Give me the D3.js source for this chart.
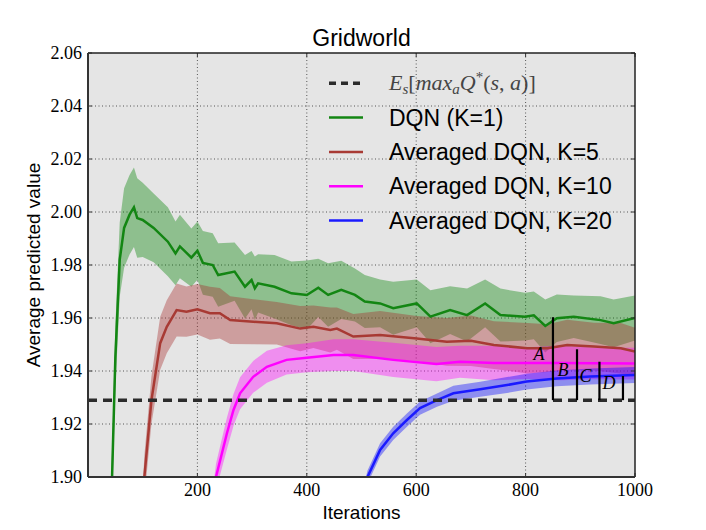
<!DOCTYPE html>
<html>
<head>
<meta charset="utf-8">
<script src="https://cdnjs.cloudflare.com/ajax/libs/d3/7.8.5/d3.min.js"></script>
<style>
  body { margin: 0; background: #fff; }
  svg { display: block; }
</style>
</head>
<body>
<script>
// Gridworld: average predicted value per iteration (mean line + spread band)

var xTicks = [200, 400, 600, 800, 1000]
var yTicks = [1.90, 1.92, 1.94, 1.96, 1.98, 2.00, 2.02, 2.04, 2.06]
var trueValue = 1.929

// DQN (K=1)
var greenIters = [36, 44, 50, 58, 66, 76, 84, 90, 100, 120,
  146, 160, 168, 189, 200, 210, 228, 238, 268, 287,
  299, 305, 311, 341, 372, 400, 421, 439, 463, 488,
  506, 534, 558, 601, 626, 662, 693, 726, 754, 799,
  815, 836, 857, 888, 937, 961, 1000]
var greenMean = [1.86, 1.90, 1.945, 1.982, 1.994, 1.999, 2.0018, 1.9977, 1.997, 1.994,
  1.9888, 1.9844, 1.987, 1.9828, 1.9854, 1.9808, 1.980, 1.9762, 1.9775, 1.9718,
  1.9743, 1.9712, 1.9731, 1.9718, 1.9693, 1.9687, 1.9714, 1.9687, 1.9706, 1.9687,
  1.9662, 1.9655, 1.9637, 1.9655, 1.9605, 1.963, 1.9611, 1.9655, 1.9611, 1.9605,
  1.961, 1.957, 1.9599, 1.9605, 1.9592, 1.958, 1.960]
var greenSpread = [0.010, 0.010, 0.012, 0.014, 0.015, 0.015, 0.015, 0.015, 0.014, 0.013,
  0.013, 0.012, 0.012, 0.011, 0.011, 0.012, 0.012, 0.012, 0.011, 0.012,
  0.011, 0.012, 0.011, 0.012, 0.012, 0.013, 0.011, 0.012, 0.011, 0.010,
  0.010, 0.009, 0.010, 0.009, 0.010, 0.009, 0.010, 0.009, 0.010, 0.009,
  0.009, 0.010, 0.009, 0.008, 0.009, 0.009, 0.0085]

// Averaged DQN, K=5
var redIters = [98, 103, 116, 132, 144, 162, 180, 200, 223, 241,
  260, 302, 345, 388, 412, 443, 455, 485, 534, 601,
  656, 700, 742, 803, 840, 876, 925, 974, 1000]
var redMean = [1.88, 1.90, 1.929, 1.9505, 1.9567, 1.963, 1.9624, 1.9633, 1.9618, 1.9618,
  1.9592, 1.9586, 1.958, 1.956, 1.9567, 1.9555, 1.956, 1.953, 1.9536, 1.9523,
  1.951, 1.9514, 1.9498, 1.9486, 1.9486, 1.9498, 1.9492, 1.9486, 1.9473]
var redSpread = [0.008, 0.008, 0.009, 0.010, 0.010, 0.010, 0.0095, 0.0095, 0.010, 0.0095,
  0.009, 0.0085, 0.008, 0.0085, 0.008, 0.0085, 0.008, 0.0085, 0.009, 0.0085,
  0.009, 0.0095, 0.009, 0.0095, 0.009, 0.0095, 0.009, 0.0095, 0.009]

// Averaged DQN, K=10
var pinkIters = [228, 234, 254, 266, 278, 302, 327, 363, 400, 449,
  485, 558, 637, 680, 742, 803, 864, 925, 1000]
var pinkMean = [1.89, 1.90, 1.9165, 1.9253, 1.9316, 1.9378, 1.9416, 1.9442, 1.945, 1.946,
  1.946, 1.9442, 1.9426, 1.9435, 1.943, 1.943, 1.943, 1.9429, 1.9428]
var pinkSpread = [0.005, 0.005, 0.006, 0.006, 0.006, 0.006, 0.006, 0.0055, 0.0055, 0.006,
  0.006, 0.0065, 0.0065, 0.006, 0.0065, 0.006, 0.0065, 0.006, 0.006]

// Averaged DQN, K=20
var blueIters = [505, 511, 534, 558, 583, 607, 638, 668, 717, 766, 802, 857, 918, 1000]
var blueMean = [1.895, 1.90, 1.9102, 1.9165, 1.9215, 1.926, 1.929, 1.9316, 1.9331, 1.9347,
  1.936, 1.9372, 1.9379, 1.9385]
var blueSpread = [0.0025, 0.0025, 0.0025, 0.0025, 0.0025, 0.0025, 0.0025, 0.0028, 0.0028, 0.003,
  0.003, 0.003, 0.003, 0.003]

var seriesNames = ["DQN (K=1)", "Averaged DQN, K=5", "Averaged DQN, K=10", "Averaged DQN, K=20"]
var lineColors = ["#138613", "#a83a34", "#ff00ff", "#1a1aff"]
var bandColors = ["#008000", "#a52a2a", "#ff00ff", "#0000ff"]

// gaps A..D between each curve and the true value
var gapLabels = ["A", "B", "C", "D"]
var gapIters = [850, 894, 935, 978]
var gapTops = [1.9603, 1.9482, 1.9435, 1.9381]

var series = [
  {iters: greenIters, mean: greenMean, spread: greenSpread},
  {iters: redIters, mean: redMean, spread: redSpread},
  {iters: pinkIters, mean: pinkMean, spread: pinkSpread},
  {iters: blueIters, mean: blueMean, spread: blueSpread}
]

var w = 706, h = 530
var margin = {left: 88, top: 53, right: 71, bottom: 53}
var pw = w - margin.left - margin.right
var ph = h - margin.top - margin.bottom

var svg = d3.select("body").append("svg")
  .attr("width", w)
  .attr("height", h)

var xScale = d3.scaleLinear().domain([0, 1000]).range([0, pw])
var yScale = d3.scaleLinear().domain([1.90, 2.06]).range([ph, 0])

var g = svg.append("g")
  .attr("transform", "translate(" + margin.left + "," + margin.top + ")")

svg.append("defs").append("clipPath").attr("id", "plotclip")
  .append("rect").attr("width", pw).attr("height", ph)

g.append("rect")
  .attr("width", pw).attr("height", ph)
  .attr("fill", "#e5e5e5")

// dotted grid
g.selectAll(".vgrid").data(xTicks.slice(0, -1)).enter()
  .append("line")
  .attr("x1", d => xScale(d)).attr("x2", d => xScale(d))
  .attr("y1", 0).attr("y2", ph)
  .attr("stroke", "#555").attr("stroke-width", 1)
  .attr("stroke-dasharray", "1,2.5")
g.selectAll(".hgrid").data(yTicks.slice(1, -1)).enter()
  .append("line")
  .attr("x1", 0).attr("x2", pw)
  .attr("y1", d => yScale(d)).attr("y2", d => yScale(d))
  .attr("stroke", "#555").attr("stroke-width", 1)
  .attr("stroke-dasharray", "1,2.5")

var plot = g.append("g").attr("clip-path", "url(#plotclip)")

var area = d3.area()
  .x((d, i) => xScale(d.it))
  .y0(d => yScale(d.m - d.s))
  .y1(d => yScale(d.m + d.s))
var line = d3.line()
  .x(d => xScale(d.it))
  .y(d => yScale(d.m))

var rows = series.map(function(s) {
  return s.iters.map(function(it, i) {
    return {it: it, m: s.mean[i], s: s.spread[i]}
  })
})

rows.forEach(function(r, k) {
  plot.append("path").datum(r)
    .attr("d", area)
    .attr("fill", bandColors[k])
    .attr("fill-opacity", 0.38)
})
rows.forEach(function(r, k) {
  plot.append("path").datum(r)
    .attr("d", line)
    .attr("fill", "none")
    .attr("stroke", lineColors[k])
    .attr("stroke-width", 2.5)
})

// true value, dashed
plot.append("line")
  .attr("x1", 0).attr("x2", pw)
  .attr("y1", yScale(trueValue)).attr("y2", yScale(trueValue))
  .attr("stroke", "#2b2b2b").attr("stroke-width", 3.5)
  .attr("stroke-dasharray", "9,6")

// gap markers
gapIters.forEach(function(it, i) {
  plot.append("line")
    .attr("x1", xScale(it)).attr("x2", xScale(it))
    .attr("y1", yScale(trueValue)).attr("y2", yScale(gapTops[i]))
    .attr("stroke", "#000").attr("stroke-width", 2.2)
  g.append("text")
    .attr("x", xScale(it) - 14)
    .attr("y", (yScale(trueValue) + yScale(gapTops[i])) / 2 + 1)
    .attr("text-anchor", "middle")
    .style("font-family", "Liberation Serif")
    .style("font-style", "italic")
    .style("font-size", "18px")
    .text(gapLabels[i])
})

// ticks, inward on all sides
yTicks.forEach(function(t) {
  g.append("line").attr("x1", 0).attr("x2", 4)
    .attr("y1", yScale(t)).attr("y2", yScale(t)).attr("stroke", "#333")
  g.append("line").attr("x1", pw - 4).attr("x2", pw)
    .attr("y1", yScale(t)).attr("y2", yScale(t)).attr("stroke", "#333")
})
xTicks.forEach(function(t) {
  g.append("line").attr("x1", xScale(t)).attr("x2", xScale(t))
    .attr("y1", ph - 4).attr("y2", ph).attr("stroke", "#333")
  g.append("line").attr("x1", xScale(t)).attr("x2", xScale(t))
    .attr("y1", 0).attr("y2", 4).attr("stroke", "#333")
})

// spines
g.append("line").attr("x1", 0).attr("x2", pw).attr("y1", 0).attr("y2", 0)
  .attr("stroke", "#222").attr("stroke-width", 1.5)
g.append("line").attr("x1", pw).attr("x2", pw).attr("y1", 0).attr("y2", ph)
  .attr("stroke", "#222").attr("stroke-width", 1.5)
g.append("line").attr("x1", 0).attr("x2", pw).attr("y1", ph).attr("y2", ph)
  .attr("stroke", "#333").attr("stroke-width", 2)
g.append("line").attr("x1", 0).attr("x2", 0).attr("y1", 0).attr("y2", ph)
  .attr("stroke", "#333").attr("stroke-width", 2)

// tick labels
g.selectAll(".ylab").data(yTicks).enter()
  .append("text")
  .attr("x", -6).attr("y", d => yScale(d))
  .attr("dy", "0.35em")
  .attr("text-anchor", "end")
  .style("font-family", "Liberation Serif")
  .style("font-size", "18px")
  .text(d => d.toFixed(2))
g.selectAll(".xlab").data(xTicks).enter()
  .append("text")
  .attr("x", d => xScale(d)).attr("y", ph + 19)
  .attr("text-anchor", "middle")
  .style("font-family", "Liberation Serif")
  .style("font-size", "18px")
  .text(d => d)

// titles
svg.append("text")
  .attr("x", margin.left + pw / 2).attr("y", 46)
  .attr("text-anchor", "middle")
  .style("font-family", "Liberation Sans")
  .style("font-size", "23px")
  .text("Gridworld")
svg.append("text")
  .attr("x", margin.left + pw / 2).attr("y", 519)
  .attr("text-anchor", "middle")
  .style("font-family", "Liberation Sans")
  .style("font-size", "19px")
  .text("Iterations")
svg.append("text")
  .attr("transform", "translate(40," + (margin.top + ph / 2) + ") rotate(-90)")
  .attr("text-anchor", "middle")
  .style("font-family", "Liberation Sans")
  .style("font-size", "19px")
  .text("Average predicted value")

// legend
var legX = 329, legY = 83.3, legStep = 34.3
var leg = svg.append("g")
leg.append("line")
  .attr("x1", legX).attr("x2", legX + 34)
  .attr("y1", legY).attr("y2", legY)
  .attr("stroke", "#2b2b2b").attr("stroke-width", 3.5)
  .attr("stroke-dasharray", "7,5")
var mathText = leg.append("text")
  .attr("x", legX + 60).attr("y", legY + 7)
  .style("font-family", "Liberation Serif")
  .style("font-size", "22px")
  .attr("fill", "#444")
mathText.append("tspan").style("font-style", "italic").text("E")
mathText.append("tspan").style("font-style", "italic").style("font-size", "15px").attr("dy", 4).text("s")
mathText.append("tspan").attr("dy", -4).text("[")
mathText.append("tspan").style("font-style", "italic").text("max")
mathText.append("tspan").style("font-style", "italic").style("font-size", "15px").attr("dy", 4).text("a")
mathText.append("tspan").style("font-style", "italic").attr("dy", -4).text("Q")
mathText.append("tspan").style("font-size", "15px").attr("dy", -8).text("*")
mathText.append("tspan").attr("dy", 8).text("(")
mathText.append("tspan").style("font-style", "italic").text("s")
mathText.append("tspan").text(", ")
mathText.append("tspan").style("font-style", "italic").text("a")
mathText.append("tspan").text(")]")

seriesNames.forEach(function(name, i) {
  var yy = legY + legStep * (i + 1)
  leg.append("line")
    .attr("x1", legX).attr("x2", legX + 34)
    .attr("y1", yy).attr("y2", yy)
    .attr("stroke", lineColors[i]).attr("stroke-width", 2.5)
  leg.append("text")
    .attr("x", legX + 60).attr("y", yy + 8)
    .style("font-family", "Liberation Sans")
    .style("font-size", "23px")
    .text(name)
})
</script>
</body>
</html>
